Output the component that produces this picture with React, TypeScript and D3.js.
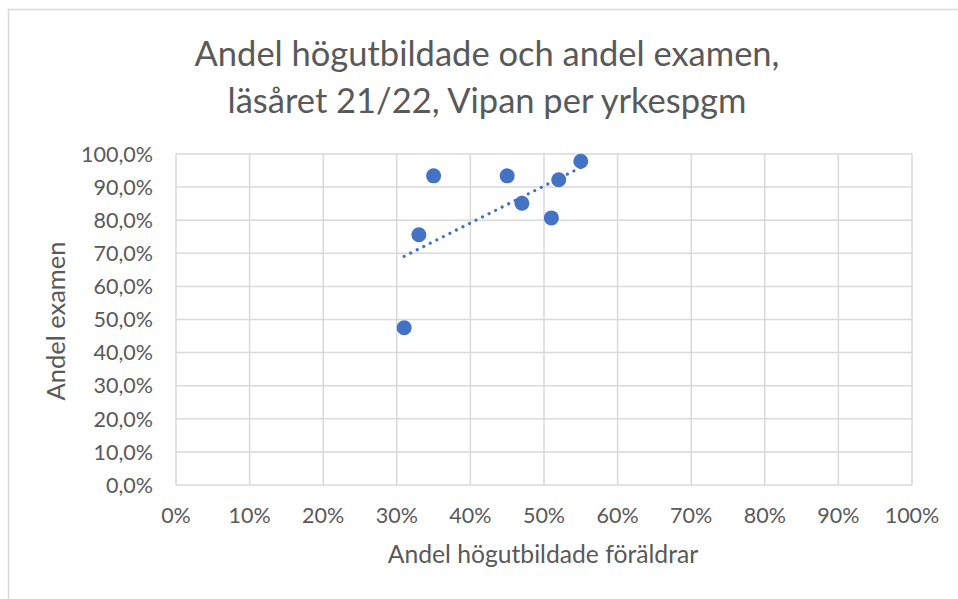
import * as d3 from "d3";

// Andel högutbildade föräldrar (%) och andel examen (%) per yrkesprogram
const parentShare = [31, 33, 35, 45, 47, 51, 52, 55];
const examShare = [47.5, 75.6, 93.4, 93.4, 85.1, 80.7, 92.2, 97.8];
const xTicks = [0, 10, 20, 30, 40, 50, 60, 70, 80, 90, 100];
const yTicks = [0, 10, 20, 30, 40, 50, 60, 70, 80, 90, 100];
const titleLines = ["Andel högutbildade och andel examen,", "läsåret 21/22, Vipan per yrkespgm"];

const W = 958;
const H = 599;
const plot = { left: 176, right: 912, top: 154, bottom: 485 };
const font = "Lato, 'Open Sans', sans-serif";
const textColor = "#595959";
const blue = "#4472C4";

const App = () => {
  const x = d3.scaleLinear().domain([0, 100]).range([plot.left, plot.right]);
  const y = d3.scaleLinear().domain([0, 100]).range([plot.bottom, plot.top]);

  // linjär trendlinje (minsta kvadrat)
  const mx = d3.mean(parentShare) as number;
  const my = d3.mean(examShare) as number;
  const sxy = d3.sum(parentShare, (v, i) => (v - mx) * (examShare[i] - my));
  const sxx = d3.sum(parentShare, v => (v - mx) * (v - mx));
  const slope = sxy / sxx;
  const icpt = my - slope * mx;
  const [x0, x1] = d3.extent(parentShare) as [number, number];
  const trend = d3.line<number>().x(v => x(v)).y(v => y(icpt + slope * v))([x0, x1]) as string;

  const fmtY = (v: number) => v.toFixed(1).replace(".", ",") + "%";

  return (
    <svg width={W} height={H} style={{ position: "absolute", left: 0, top: 0 }}>
      <rect x={0} y={0} width={W} height={H} fill="#fff" />
      <rect x={8.5} y={9.5} width={1200} height={1200} fill="#fff" stroke="#D9D9D9" strokeWidth={1.5} />
      <g fontFamily={font} fill={textColor}>
        {titleLines.map((t, i) => (
          <text key={t} x={487} y={66 + i * 47} textAnchor="middle" fontSize={34.5}>{t}</text>
        ))}
      </g>
      <g stroke="#D9D9D9" strokeWidth={1.5}>
        {xTicks.map(t => (
          <line key={"gx" + t} x1={x(t)} x2={x(t)} y1={plot.top} y2={plot.bottom} />
        ))}
        {yTicks.map(t => (
          <line key={"gy" + t} x1={plot.left} x2={plot.right} y1={y(t)} y2={y(t)} />
        ))}
      </g>
      <g fontFamily={font} fill={textColor} fontSize={21.5}>
        {yTicks.map(t => (
          <text key={"ty" + t} x={153} y={y(t)} dy="0.36em" textAnchor="end">{fmtY(t)}</text>
        ))}
        {xTicks.map(t => (
          <text key={"tx" + t} x={x(t)} y={523} textAnchor="middle">{t + "%"}</text>
        ))}
      </g>
      <g fontFamily={font} fill={textColor}>
        <text x={543} y={563} textAnchor="middle" fontSize={24.7}>Andel högutbildade föräldrar</text>
        <text transform={`translate(65,${321}) rotate(-90)`} textAnchor="middle" fontSize={25.5}>Andel examen</text>
      </g>
      <g fill={blue}>
        {parentShare.map((v, i) => (
          <circle key={"p" + i} cx={x(v)} cy={y(examShare[i])} r={7.5} />
        ))}
      </g>
      <path d={trend} fill="none" stroke={blue} strokeWidth={3.2} strokeDasharray="0.01 7.3" strokeLinecap="round" />
    </svg>
  );
};

export default App;
